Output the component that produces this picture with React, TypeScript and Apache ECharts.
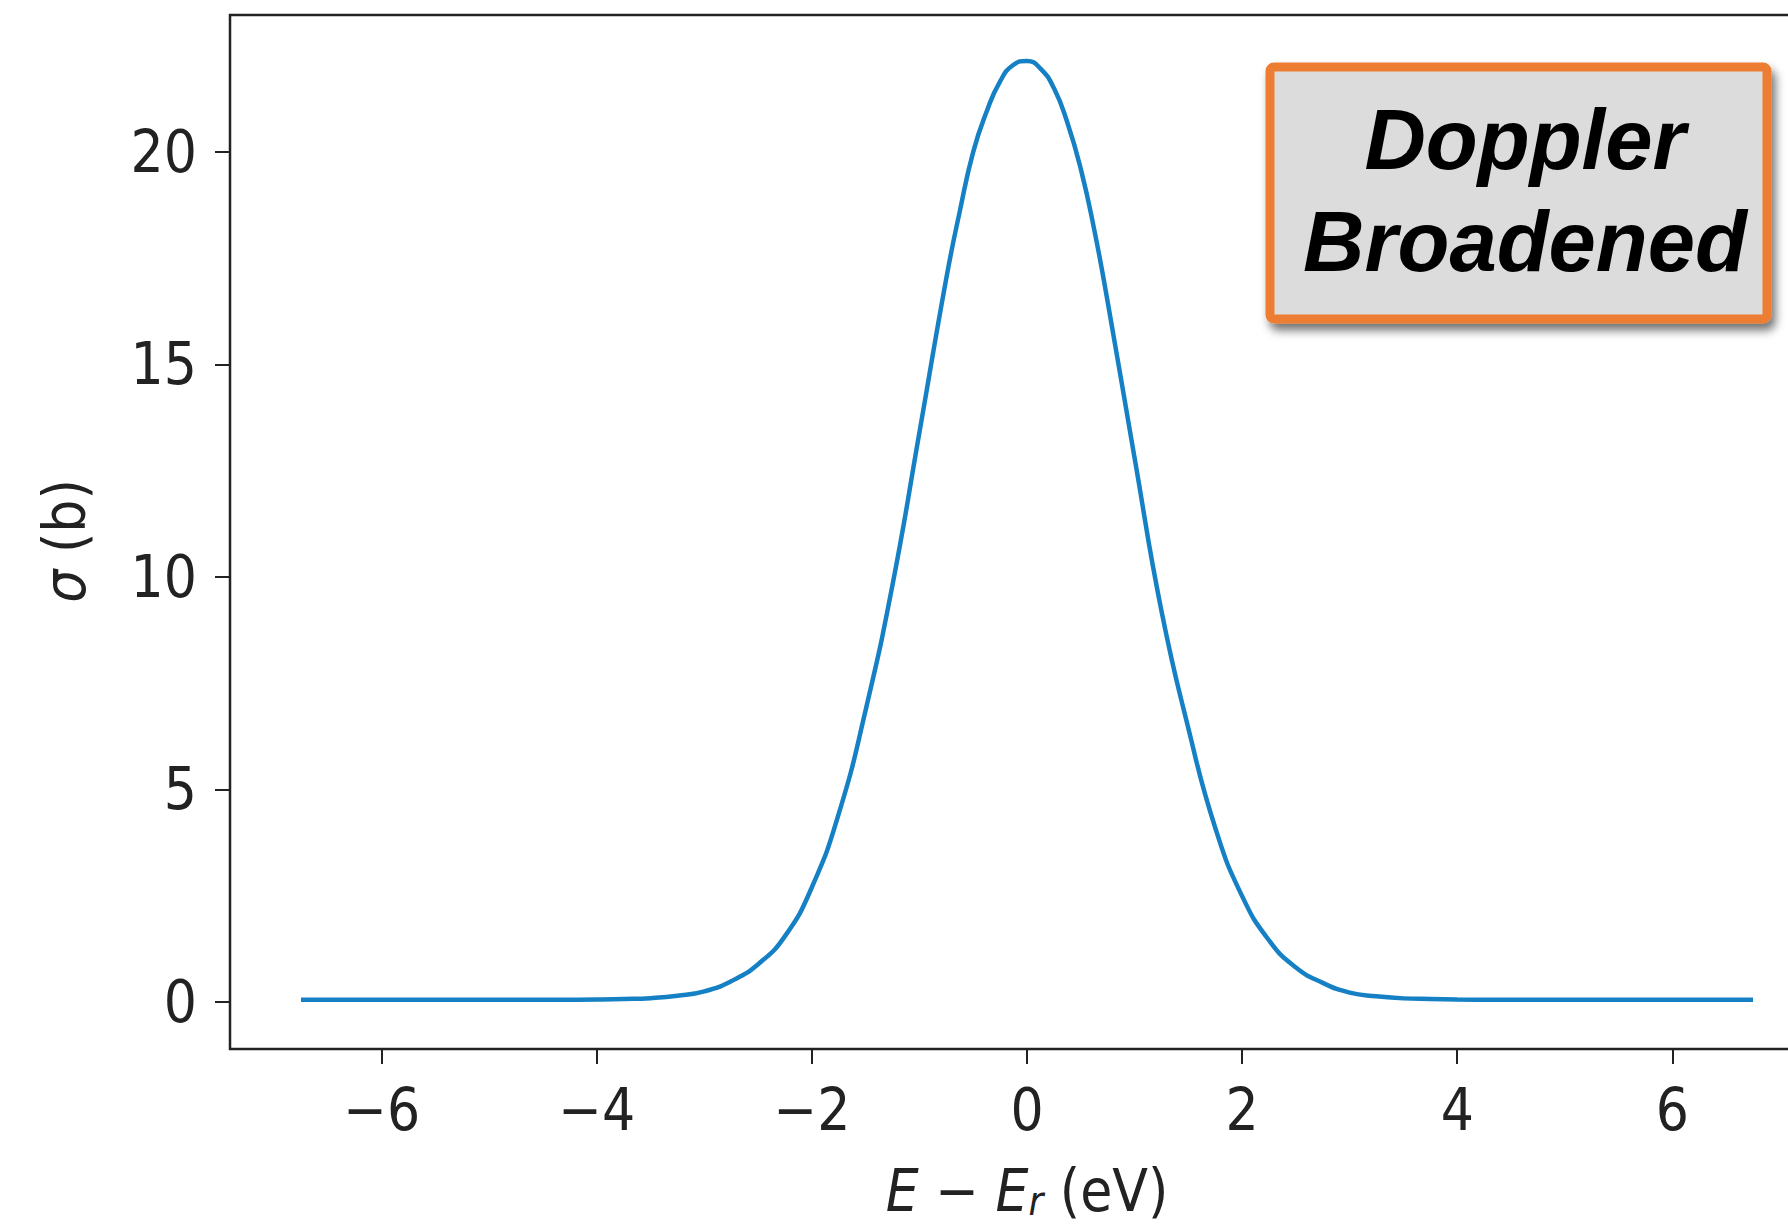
import React, { useEffect, useRef } from "react";
import * as echarts from "echarts";

// E - E_r (eV), sample positions
const energy = [
  -6.75, -6.0, -5.0, -4.5, -4.0, -3.75, -3.5, -3.25, -3.0, -2.75, -2.5, -2.25,
  -2.0, -1.75, -1.5, -1.25, -1.0, -0.75, -0.625, -0.5, -0.375, -0.25, -0.125,
  0.0, 0.125, 0.25, 0.375, 0.5, 0.625, 0.75, 1.0, 1.25, 1.5, 1.75, 2.0, 2.25,
  2.5, 2.75, 3.0, 3.25, 3.5, 3.75, 4.0, 4.5, 5.0, 6.0, 6.75,
];
// sigma (b) at those energies
const sigma = [
  0.05, 0.05, 0.05, 0.05, 0.06, 0.07, 0.09, 0.145, 0.25, 0.49, 0.89, 1.55, 2.7,
  4.43, 6.87, 9.82, 13.4, 17.03, 18.6, 20.0, 20.95, 21.66, 22.05, 22.14, 21.96,
  21.5, 20.69, 19.6, 18.17, 16.47, 12.8, 9.2, 6.44, 4.1, 2.49, 1.45, 0.81, 0.45,
  0.22, 0.135, 0.085, 0.07, 0.06, 0.05, 0.05, 0.05, 0.05,
];
const xTicks = [-6, -4, -2, 0, 2, 4, 6];
const yTicks = [0, 5, 10, 15, 20];
const annotationLines = ["Doppler", "Broadened"];

const tickFont = '"DejaVu Sans Condensed", "DejaVu Sans", sans-serif';
const ink = "#222222";

export default function App() {
  const ref = useRef<HTMLDivElement>(null);
  useEffect(() => {
    if (!ref.current) return;
    const chart = echarts.init(ref.current, undefined, { renderer: "svg" });
    const fmt = (v: number) => (v < 0 ? "\u2212" + Math.abs(v) : String(v));
    chart.setOption({
      animation: false,
      backgroundColor: "#ffffff",
      grid: {
        left: 230,
        top: 15,
        width: 1594,
        height: 1034,
        outerBoundsMode: "none",
        containLabel: false,
        show: true,
        borderColor: ink,
        borderWidth: 2.5,
        backgroundColor: "transparent",
      },
      xAxis: {
        type: "value",
        min: -7.41,
        max: 7.41,
        splitLine: { show: false },
        axisLine: { show: false, onZero: false },
        axisTick: {
          show: true,
          inside: false,
          customValues: xTicks,
          length: 15,
          lineStyle: { color: ink, width: 2 },
        },
        axisLabel: {
          customValues: xTicks,
          formatter: fmt,
          margin: 32,
          fontFamily: tickFont,
          fontSize: 58,
          color: ink,
        },
        name: "{i|E} \u2212 {i|E}{s|r} (eV)",
        nameLocation: "middle",
        nameGap: 112,
        nameTextStyle: {
          fontFamily: tickFont,
          fontSize: 58,
          color: ink,
          rich: {
            i: { fontFamily: tickFont, fontSize: 58, fontStyle: "italic", color: ink },
            s: {
              fontFamily: tickFont,
              fontSize: 40,
              fontStyle: "italic",
              color: ink,
              verticalAlign: "bottom",
              padding: [20, 0, 0, 0],
            },
          },
        },
      },
      yAxis: {
        type: "value",
        min: -1.106,
        max: 23.22,
        splitLine: { show: false },
        axisLine: { show: false, onZero: false },
        axisTick: {
          show: true,
          inside: false,
          customValues: yTicks,
          length: 15,
          lineStyle: { color: ink, width: 2 },
        },
        axisLabel: {
          customValues: yTicks,
          formatter: fmt,
          margin: 33,
          fontFamily: tickFont,
          fontSize: 58,
          color: ink,
        },
        name: "{i|\u03c3} (b)",
        nameLocation: "middle",
        nameGap: 136,
        nameTextStyle: {
          fontFamily: tickFont,
          fontSize: 58,
          color: ink,
          padding: [0, 18, 0, 0],
          rich: {
            i: { fontFamily: tickFont, fontSize: 58, fontStyle: "italic", color: ink },
          },
        },
      },
      series: [
        {
          type: "line",
          data: energy.map((e, i) => [e, sigma[i]]),
          showSymbol: false,
          smooth: 0.5,
          lineStyle: { color: "#1680c4", width: 4.5 },
          itemStyle: { color: "#1680c4" },
        },
      ],
      graphic: [
        {
          type: "rect",
          z: 100,
          shape: { x: 1270, y: 67, width: 497, height: 252, r: 4 },
          style: {
            fill: "#dcdcdc",
            stroke: "#ed7d31",
            lineWidth: 9,
            shadowBlur: 10,
            shadowOffsetX: 4,
            shadowOffsetY: 7,
            shadowColor: "rgba(0,0,0,0.55)",
          },
        },
        {
          type: "text",
          z: 101,
          style: {
            text: annotationLines.join("\n"),
            x: 1525,
            y: 190,
            align: "center",
            verticalAlign: "middle",
            fontFamily: '"Liberation Sans", Arial, sans-serif',
            fontSize: 85,
            fontWeight: "bold",
            fontStyle: "italic",
            lineHeight: 102,
            fill: "#000000",
          },
        },
      ],
    });
    return () => chart.dispose();
  }, []);
  return (
    <div
      ref={ref}
      style={{ position: "fixed", left: 0, top: 0, width: 1830, height: 1230 }}
    />
  );
}
